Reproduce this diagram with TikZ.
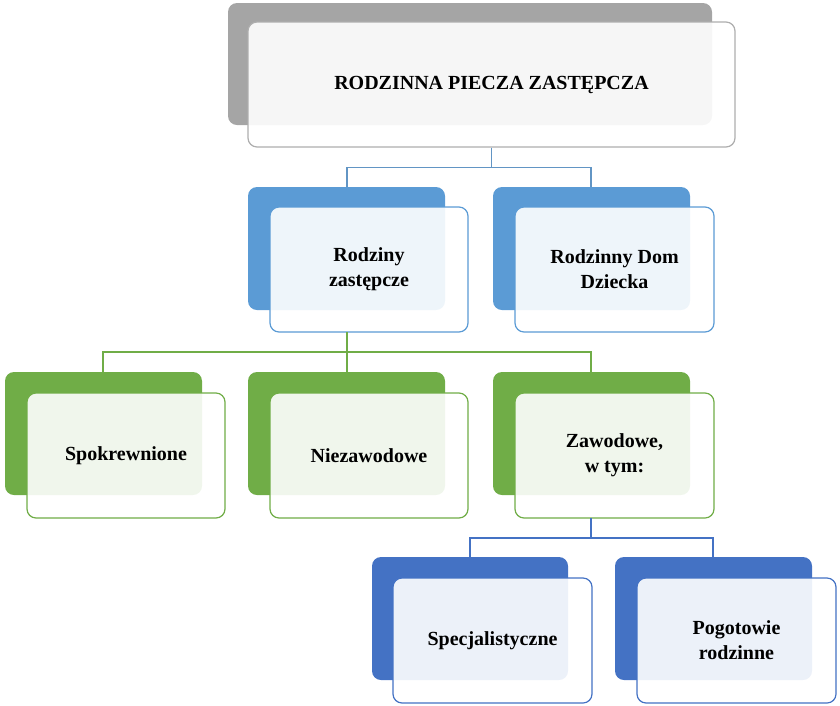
\documentclass[tikz,border=0pt]{standalone}
\usepackage{fontspec}
\setmainfont{Liberation Serif}
\begin{document}
\begin{tikzpicture}[x=1pt,y=-1pt,
  back/.style={rounded corners=9pt,draw=none},
  front/.style={rounded corners=9pt,draw,line width=1.2pt,fill=white,fill opacity=0.9,text opacity=1,
    font=\bfseries\fontsize{20}{25}\selectfont,align=center},
  conn/.style={line width=1.2pt}]
\definecolor{gr}{HTML}{A5A5A5}
\definecolor{bl}{HTML}{5B9BD5}
\definecolor{gn}{HTML}{70AD47}
\definecolor{db}{HTML}{4472C4}
\useasboundingbox (0,0) rectangle (840,705);
\fill[back,gr] (228,3) rectangle (712,125);
\node[front,draw=gr!90,minimum width=487pt,minimum height=125pt] (top) at (491.5,84.5) {RODZINNA PIECZA ZASTĘPCZA};
% level 2
\fill[back,bl] (248,187) rectangle (445,310);
\fill[back,bl] (493,187) rectangle (690,310);
\node[front,draw=bl,minimum width=198pt,minimum height=125pt] (rz) at (369,269.5) {Rodziny\\zastępcze};
\node[front,draw=bl,minimum width=199pt,minimum height=125pt] (rd) at (614.5,269.5) {Rodzinny Dom\\Dziecka};
\coordinate (b2a) at (347,187); \coordinate (b2b) at (591,187);
\draw[conn,bl!80!gray] (top.south) -- ++(0,20) -| (b2a);
\draw[conn,bl!80!gray] (top.south) -- ++(0,20) -| (b2b);
% level 3
\foreach \x in {5,248,493}{\fill[back,gn] (\x,372) rectangle (\x+197,495);}
\node[front,draw=gn,minimum width=198pt,minimum height=125pt] (sp) at (126,455.5) {Spokrewnione};
\node[front,draw=gn,minimum width=198pt,minimum height=125pt] (nz) at (369,455.5) {Niezawodowe};
\node[front,draw=gn,minimum width=199pt,minimum height=125pt] (zw) at (614.5,455.5) {Zawodowe,\\ w tym:};
\coordinate (c1) at (103,372); \coordinate (c2) at (347,372); \coordinate (c3) at (591,372);
\draw[conn,gn] (347,332) -- (347,352);
\draw[conn,gn] (c1) |- (347,352) -| (c3);
\draw[conn,gn] (347,352) -- (c2);
% level 4
\fill[back,db] (372,557) rectangle (568,680);
\fill[back,db] (615,557) rectangle (812,680);
\node[front,draw=db,minimum width=199pt,minimum height=125pt] (sc) at (492.5,640.5) {Specjalistyczne};
\node[front,draw=db,minimum width=199pt,minimum height=125pt] (pr) at (736.5,640.5) {Pogotowie\\rodzinne};
\coordinate (d1) at (470,557); \coordinate (d2) at (713,557);
\draw[conn,db] (591,518) -- (591,538);
\draw[conn,db] (d1) |- (591,538) -| (d2);
\end{tikzpicture}
\end{document}
